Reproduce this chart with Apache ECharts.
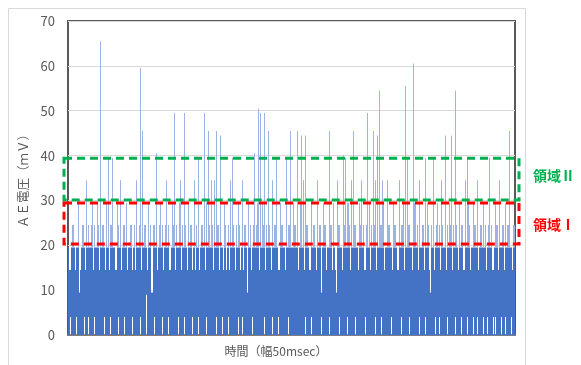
<!DOCTYPE html>
<html>
<head>
<meta charset="utf-8">
<script src="https://cdn.jsdelivr.net/npm/echarts@6/dist/echarts.min.js"></script>
<style>html,body{margin:0;padding:0;background:#fff}#c{width:581px;height:365px}</style>
</head>
<body>
<div id="c"></div>
<script>
// peak value of the first 1px sample in each ~2px time slot (mV)
const peaks = [
19.5,14.5,24.5,19.5,19.5,29.5,14.5,24.5,19.5,34.5,24.5,19.5,29.5,24.5,19.5,24.5,
65.5,24.5,19.5,29.5,39.5,24.5,39.5,19.5,14.5,24.5,34.5,19.5,24.5,29.5,19.5,24.5,
14.5,24.5,34.5,19.5,59.5,45.5,24.5,19.5,29.5,24.5,9.5,24.5,40.5,19.5,29.5,24.5,
19.5,34.5,24.5,14.5,29.5,49.5,24.5,19.5,34.5,24.5,49.5,19.5,29.5,24.5,14.5,34.5,
24.5,39.5,19.5,24.5,49.5,29.5,45.5,19.5,24.5,34.5,45.5,24.5,44.5,19.5,29.5,14.5,
24.5,34.5,39.5,19.5,24.5,29.5,14.5,34.5,24.5,19.5,29.5,24.5,19.5,40.5,24.5,50.5,
49.5,29.5,49.5,24.5,45.5,19.5,34.5,24.5,39.5,14.5,29.5,24.5,19.5,39.5,24.5,45.5,
19.5,29.5,24.5,45.5,19.5,44.5,34.5,44.5,24.5,14.5,29.5,24.5,19.5,34.5,24.5,9.5,
29.5,24.5,19.5,45.5,24.5,29.5,14.5,34.5,24.5,19.5,40,39.5,29.5,24.5,34.5,45.5,
24.5,19.5,29.5,34.5,24.5,14.5,49.5,29.5,24.5,45.5,34.5,44.5,54.5,24.5,29.5,19.5,
34.5,24.5,19.5,29.5,24.5,14.5,34.5,24.5,29.5,55.5,39.5,24.5,19.5,60.5,29.5,24.5,
34.5,19.5,24.5,39.5,29.5,14.5,24.5,39.5,19.5,29.5,24.5,34.5,19.5,44.5,24.5,29.5,
44.5,24.5,54.5,19.5,29.5,24.5,14.5,34.5,39.5,24.5,19.5,29.5,24.5,34.5,19.5,24.5,
29.5,24.5,19.5,39.5,24.5,14.5,29.5,24.5,34.5,19.5,24.5,29.5,24.5,45.5,19.5,24.5
];
// peak value of the second 1px sample in each slot (mV)
const peaksB = [
14.5,19.5,24.5,14.5,19.5,9.5,19.5,24.5,14.5,19.5,19.5,24.5,14.5,19.5,29.5,14.5,
19.5,24.5,14.5,19.5,14.5,24.5,19.5,14.5,29.5,19.5,14.5,24.5,19.5,14.5,19.5,24.5,
19.5,14.5,19.5,24.5,14.5,19.5,24.5,14.5,19.5,9.5,24.5,19.5,14.5,24.5,19.5,14.5,
24.5,19.5,14.5,19.5,24.5,14.5,19.5,29.5,14.5,19.5,24.5,14.5,19.5,24.5,19.5,14.5,
19.5,14.5,24.5,19.5,14.5,19.5,24.5,34.5,14.5,19.5,24.5,14.5,19.5,14.5,24.5,19.5,
14.5,19.5,24.5,14.5,19.5,24.5,19.5,14.5,24.5,9.5,19.5,14.5,24.5,19.5,29.5,14.5,
19.5,24.5,14.5,19.5,24.5,14.5,19.5,24.5,19.5,14.5,24.5,19.5,14.5,19.5,24.5,19.5,
14.5,24.5,19.5,14.5,29.5,19.5,14.5,24.5,19.5,14.5,19.5,24.5,14.5,19.5,24.5,19.5,
24.5,14.5,19.5,24.5,14.5,19.5,9.5,24.5,19.5,14.5,24.5,19.5,29.5,14.5,19.5,24.5,
19.5,14.5,24.5,19.5,14.5,24.5,19.5,14.5,19.5,24.5,14.5,19.5,24.5,34.5,14.5,19.5,
24.5,19.5,14.5,24.5,19.5,14.5,19.5,24.5,14.5,19.5,24.5,19.5,14.5,29.5,19.5,14.5,
19.5,24.5,14.5,19.5,24.5,9.5,19.5,14.5,24.5,19.5,14.5,24.5,19.5,14.5,19.5,24.5,
14.5,19.5,24.5,14.5,19.5,24.5,14.5,19.5,29.5,14.5,19.5,24.5,19.5,14.5,24.5,19.5,
19.5,14.5,24.5,19.5,14.5,19.5,24.5,14.5,19.5,24.5,14.5,19.5,24.5,19.5,14.5,24.5
];
// trough value of the first sample in each slot (mV)
const troughs = [
0,4,0,0,4,0,0,0,4,0,4,0,0,4,0,0,
0,0,4,0,0,4,0,0,0,4,0,0,4,0,0,0,
4,0,0,0,4,0,0,9,0,0,0,4,0,0,0,4,
0,0,4,0,0,0,0,4,0,0,4,0,0,0,4,0,
0,4,0,0,0,4,0,0,0,0,4,0,0,4,0,0,
4,0,0,0,0,4,0,4,0,0,0,0,4,0,0,0,
0,0,4,0,0,0,4,0,0,4,0,0,0,0,4,0,
0,4,0,0,0,0,0,4,0,0,4,0,0,0,0,4,
0,0,0,4,0,0,0,0,4,0,0,0,4,0,0,0,
4,0,0,0,0,4,0,0,0,0,4,0,0,4,0,0,
0,0,4,0,0,0,0,4,0,0,0,4,0,0,0,0,
4,0,0,4,0,0,0,0,4,0,4,0,0,0,4,0,
0,0,4,0,0,4,0,0,4,0,0,4,0,4,0,0,
4,0,4,0,0,4,4,0,0,4,0,4,0,0,4,0
];
const yTicks = [0, 10, 20, 30, 40, 50, 60, 70];
const region2 = [30.1, 39.4]; // 領域Ⅱ
const region1 = [20.3, 29.4]; // 領域Ⅰ
const yName = 'ＡＥ電圧（ｍＶ）';
const xName = '時間（幅50msec）';

const slots = peaks.map((_, i) => i);
const seriesData = peaks.map((p, i) => [i, troughs[i], p, peaksB[i]]);
const CORE = 19.5; // level up to which the trace is visually solid
const DARK = '#4472C4', LIGHT = '#9DB3E1';

function renderItem(params, api) {
  const idx = api.value(0), lo = api.value(1), hiA = api.value(2), hiB = api.value(3);
  const base = api.coord([idx, 0]);
  const bw = api.size([1, 0])[0];
  const xl = Math.round(base[0] - bw / 2);
  const xr = Math.round(base[0] + bw / 2);
  const children = [];
  const column = (x, w, from, hi) => {
    const yFrom = api.coord([idx, from])[1];
    const yCore = api.coord([idx, Math.min(hi, CORE)])[1];
    children.push({type: 'rect', shape: {x: x, y: yCore, width: w, height: yFrom - yCore}, style: {fill: DARK}});
    if (hi > CORE) {
      const yHi = api.coord([idx, hi])[1];
      children.push({type: 'rect', shape: {x: x, y: yHi, width: 1, height: yCore - yHi}, style: {fill: LIGHT}});
    }
  };
  column(xl, 1, lo, hiA);
  column(xl + 1, Math.max(xr - xl - 1, 1), 0, hiB);
  return {type: 'group', children};
}

const FONT = '"Noto Sans CJK JP", "Noto Sans", sans-serif';
const chart = echarts.init(document.getElementById('c'), null, {renderer: 'canvas'});
chart.setOption({
  animation: false,
  backgroundColor: '#fff',
  textStyle: {fontFamily: FONT},
  grid: {left: 68, right: 66, top: 21, bottom: 30, show: true, borderColor: '#595959', borderWidth: 2, backgroundColor: 'transparent'},
  xAxis: {
    type: 'category', data: slots, boundaryGap: true,
    axisLabel: {show: false}, axisTick: {show: false},
    axisLine: {show: true, lineStyle: {color: '#7f7f7f', width: 2}},
    splitLine: {show: false}
  },
  yAxis: {
    type: 'value', min: yTicks[0], max: yTicks[yTicks.length - 1], interval: 10,
    axisLabel: {color: '#595959', fontSize: 13, margin: 13, fontFamily: FONT},
    axisTick: {show: false}, axisLine: {show: false},
    splitLine: {lineStyle: {color: '#d9d9d9', width: 1}},
    name: yName, nameLocation: 'middle', nameRotate: 90, nameGap: 38,
    nameTextStyle: {color: '#595959', fontSize: 12.5, fontFamily: FONT}
  },
  series: [{
    type: 'custom', data: seriesData, renderItem: renderItem, silent: true,
    encode: {x: 0, y: [1, 2, 3]}, clip: true
  }]
});

function drawAnnotations() {
  const gm = chart.getModel().getComponent('grid', 0).coordinateSystem.getRect();
  const x0 = gm.x - 4, x1 = gm.x + gm.width + 4;
  const yp = v => chart.convertToPixel({yAxisIndex: 0}, v);
  const box = (r, color) => {
    const top = yp(r[1]), bot = yp(r[0]);
    return {type: 'rect', z: 100, shape: {x: x0, y: top, width: x1 - x0, height: bot - top},
      style: {fill: 'none', stroke: color, lineWidth: 3, lineDash: [8, 5]}};
  };
  chart.setOption({graphic: [
    {type: 'rect', z: -1, shape: {x: 8.5, y: 8.5, width: 517, height: 370}, style: {fill: 'none', stroke: '#d9d9d9', lineWidth: 1}},
    box(region2, '#00B050'),
    box(region1, '#FF0000'),
    {type: 'text', z: 101, x: 533, y: yp((region2[0] + region2[1]) / 2 + 0.7),
      style: {text: '領域Ⅱ', fill: '#00B050', font: 'bold 14px ' + FONT, textVerticalAlign: 'middle'}},
    {type: 'text', z: 101, x: 533, y: yp((region1[0] + region1[1]) / 2 - 0.2),
      style: {text: '領域Ⅰ', fill: '#FF0000', font: 'bold 14px ' + FONT, textVerticalAlign: 'middle'}},
    {type: 'text', z: 101, x: 276, y: 351,
      style: {text: xName, fill: '#595959', font: '12px ' + FONT, textAlign: 'center', textVerticalAlign: 'middle'}}
  ]});
}
drawAnnotations();
</script>
</body>
</html>
